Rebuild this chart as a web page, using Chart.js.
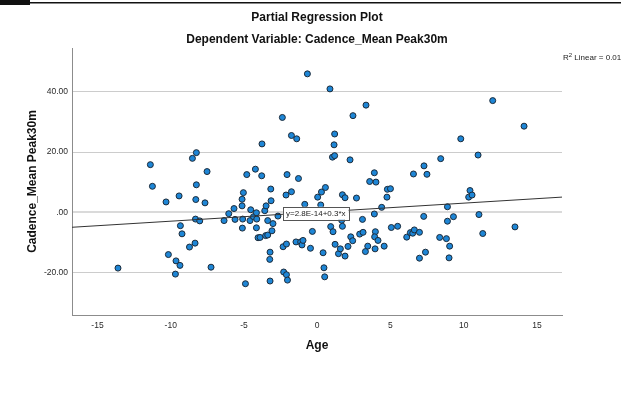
<!DOCTYPE html>
<html>
<head>
<meta charset="utf-8">
<title>Partial Regression Plot</title>
<script src="https://cdn.jsdelivr.net/npm/chart.js@4.4.1/dist/chart.umd.min.js"></script>
<style>
    html, body { margin: 0; padding: 0; background: #ffffff; }
    canvas { display: block; }
</style>
</head>
<body>
<canvas id="partialPlot" width="621" height="410"></canvas>
<script>
// Age residuals (x) and Cadence_Mean Peak30m residuals (y), one entry per case
const ageResid = [
    -13.60, -11.39, -11.25, -10.32, -10.16, -9.68, -9.64, -9.43, -9.37, -9.34,
    -9.23, -8.72, -8.52, -8.34, -8.31, -8.29, -8.25, -8.25, -8.02, -7.66,
    -7.52, -7.25, -6.36, -6.04, -5.68, -5.61, -5.13, -5.13, -5.09, -5.11,
    -5.04, -4.90, -4.81, -4.59, -4.54, -4.35, -4.22, -4.15, -4.13, -4.15,
    -4.04, -3.90, -3.79, -3.77, -3.58, -3.49, -3.52, -3.38, -3.38, -3.22,
    -3.24, -3.22, -3.17, -3.15, -3.09, -3.02, -2.68, -2.38, -2.33, -2.29,
    -2.10, -2.13, -2.10, -2.03, -2.06, -1.76, -1.76, -1.40, -1.45, -1.28,
    -1.13, -1.04, -0.97, -0.85, -0.67, -0.56, -0.46, -0.33, 0.03, 0.03,
    0.24, 0.29, 0.40, 0.46, 0.51, 0.56, 0.63, 0.87, 0.92, 1.04,
    1.08, 1.15, 1.19, 1.19, 1.22, 1.45, 1.58, 1.58, 1.67, 1.72,
    1.72, 1.90, 1.90, 2.10, 2.24, 2.29, 2.42, 2.44, 2.68, 2.90,
    3.09, 3.13, 3.33, 3.58, 3.90, 4.01, 3.90, 3.97, 3.92, 4.15,
    3.45, 3.29, 3.95, 4.40, 4.57, 4.76, 4.79, 5.00, 5.06, 5.49,
    6.11, 6.36, 6.52, 6.63, 6.98, 6.57, 7.29, 7.49, 7.27, 7.39,
    6.98, 8.36, 8.43, 8.82, 8.89, 8.89, 9.00, 9.04, 9.30, 9.80,
    10.34, 10.43, 10.57, 10.98, 11.04, 11.30, 11.98, 13.50, 14.12
];
const cadenceResid = [
    -18.6, 15.8, 8.6, 3.4, -14.1, -20.6, -16.2, 5.4, -17.7, -4.5,
    -7.2, -11.6, 17.9, -10.3, -2.3, 4.2, 19.8, 9.1, -2.9, 3.1,
    13.5, -18.3, -2.8, -0.5, 1.2, -2.4, 4.3, 2.1, -2.3, -5.3,
    6.5, -23.8, 12.5, -2.8, 0.8, -1.5, 14.3, -0.2, -2.3, -5.2,
    -8.5, -8.4, 12.1, 22.7, 0.5, 2.1, -7.8, -7.6, -2.8, -13.3,
    -15.7, -22.9, 7.7, 3.8, -6.2, -3.8, -1.3, 31.5, -11.5, -19.9,
    -10.6, 5.7, -20.8, -22.6, 12.5, 25.5, 6.8, 24.4, -9.9, 11.2,
    -9.9, -10.9, -9.4, 2.6, 46.0, 0.1, -12.0, -6.4, 5.0, 0.2,
    2.4, 6.7, -13.5, -18.5, -21.5, 8.2, 0.4, 41.0, -4.8, 18.3,
    -6.5, 22.4, 18.8, 26.0, -10.7, -13.8, 0.1, -12.2, -2.7, -4.7,
    5.8, 4.8, -14.6, -11.4, 17.4, -8.2, -9.5, 32.1, 4.7, -7.3,
    -2.4, -6.7, 35.6, 10.2, 13.1, 10.0, -0.6, -6.5, -8.2, -9.4,
    -11.3, -13.1, -12.2, 1.6, -11.3, 5.0, 7.6, 7.8, -5.1, -4.7,
    -8.3, -6.8, -7.0, -5.9, -6.7, 12.7, 15.4, 12.6, -1.4, -13.3,
    -15.3, -8.4, 17.8, -8.8, 1.8, -3.0, -15.2, -11.3, -1.5, 24.4,
    5.0, 7.2, 5.7, 19.0, -0.8, -7.1, 37.1, -4.9, 28.6
];

// Fitted line and its summary
const fitIntercept = 2.8e-14;
const fitSlope = 0.3;
const fitLabel = 'y=2.8E-14+0.3*x';
const rSquared = '0.017';

// Axis ranges and tick marks
const xRange = [-16.74, 16.71];
const yRange = [-34.2, 54.6];
const xTicks = [-15, -10, -5, 0, 5, 10, 15];
const yTicks = [-20, 0, 20, 40];

const FONT = '"Liberation Sans", Arial, sans-serif';

const points = ageResid.map((x, i) => ({ x: x, y: cadenceResid[i] }));
const fitLine = xRange.map(x => ({ x: x, y: fitIntercept + fitSlope * x }));

// Page background, the output frame rule and the R² note in the top right corner
const frameAndNotes = {
    id: 'frameAndNotes',
    beforeDraw(chart) {
        const ctx = chart.ctx;
        ctx.save();
        ctx.fillStyle = '#ffffff';
        ctx.fillRect(0, 0, chart.width, chart.height);
        ctx.fillStyle = '#111111';
        ctx.fillRect(0, 0, 30, 5);
        ctx.fillRect(30, 2, chart.width - 30, 1.5);
        ctx.restore();
    },
    afterDraw(chart) {
        const ctx = chart.ctx;
        ctx.save();
        ctx.fillStyle = '#222222';
        ctx.textBaseline = 'alphabetic';
        let x = 563;
        const y = 60;
        ctx.font = '8px ' + FONT;
        ctx.fillText('R', x, y);
        x += ctx.measureText('R').width;
        ctx.font = '6px ' + FONT;
        ctx.fillText('2', x, y - 3.5);
        x += ctx.measureText('2').width;
        ctx.font = '8px ' + FONT;
        ctx.fillText(' Linear = ' + rSquared, x, y);
        ctx.restore();
    }
};

// Equation box sitting on the fit line near x = 0
const fitLabelBox = {
    id: 'fitLabelBox',
    afterDatasetsDraw(chart) {
        const { ctx, scales } = chart;
        const cx = scales.x.getPixelForValue(-0.1);
        const cy = scales.y.getPixelForValue(fitIntercept + fitSlope * -0.1) + 1;
        ctx.save();
        ctx.font = '8px ' + FONT;
        const w = ctx.measureText(fitLabel).width + 6;
        const h = 13;
        ctx.fillStyle = '#ffffff';
        ctx.fillRect(cx - w / 2, cy - h / 2, w, h);
        ctx.strokeStyle = '#555555';
        ctx.lineWidth = 1;
        ctx.strokeRect(Math.round(cx - w / 2) + 0.5, Math.round(cy - h / 2) + 0.5, Math.round(w), h);
        ctx.fillStyle = '#222222';
        ctx.textAlign = 'center';
        ctx.textBaseline = 'middle';
        ctx.fillText(fitLabel, cx, cy + 0.5);
        ctx.restore();
    }
};

const ctx = document.getElementById('partialPlot').getContext('2d');

new Chart(ctx, {
    type: 'scatter',
    data: {
        datasets: [
            {
                type: 'line',
                label: 'Fit',
                data: fitLine,
                borderColor: '#333333',
                borderWidth: 1,
                pointRadius: 0,
                fill: false,
                order: 0
            },
            {
                label: 'Cases',
                data: points,
                backgroundColor: '#1e86d6',
                borderColor: '#1c2b3a',
                borderWidth: 1,
                pointRadius: 3,
                order: 1
            }
        ]
    },
    options: {
        responsive: false,
        devicePixelRatio: 1,
        animation: false,
        layout: {
            padding: { left: 20, top: 0, right: 59, bottom: 53 }
        },
        plugins: {
            legend: { display: false },
            tooltip: { enabled: false },
            title: {
                display: true,
                text: 'Partial Regression Plot',
                fullSize: false,
                color: '#111111',
                font: { family: FONT, size: 12, weight: 'bold' },
                padding: { top: 10, bottom: 8 }
            },
            subtitle: {
                display: true,
                text: 'Dependent Variable: Cadence_Mean Peak30m',
                fullSize: false,
                color: '#111111',
                font: { family: FONT, size: 12, weight: 'bold' },
                padding: { top: 0, bottom: 1.2 }
            }
        },
        scales: {
            x: {
                type: 'linear',
                min: xRange[0],
                max: xRange[1],
                afterBuildTicks: scale => {
                    scale.ticks = xTicks.map(v => ({ value: v }));
                },
                afterFit: scale => { scale.height = 42; },
                grid: { display: false, drawTicks: false },
                border: { display: true, color: '#8c8c8c', width: 1 },
                ticks: {
                    color: '#2a2a2a',
                    font: { family: FONT, size: 8.5 },
                    padding: 6,
                    maxRotation: 0,
                    callback: value => String(value)
                },
                title: {
                    display: true,
                    text: 'Age',
                    color: '#111111',
                    font: { family: FONT, size: 12, weight: 'bold' },
                    padding: { top: 0, bottom: 4 }
                }
            },
            y: {
                type: 'linear',
                min: yRange[0],
                max: yRange[1],
                afterBuildTicks: scale => {
                    scale.ticks = yTicks.map(v => ({ value: v }));
                },
                afterFit: scale => { scale.width = 52; },
                grid: {
                    display: true,
                    drawTicks: false,
                    color: ctx => (ctx.tick && ctx.tick.value === 0 ? '#dadada' : '#cccccc'),
                    lineWidth: ctx => (ctx.tick && ctx.tick.value === 0 ? 2 : 1)
                },
                border: { display: true, color: '#8c8c8c', width: 1 },
                ticks: {
                    color: '#2a2a2a',
                    font: { family: FONT, size: 8.5 },
                    padding: 4,
                    callback: value => (value === 0 ? '.00' : value.toFixed(2))
                },
                title: {
                    display: true,
                    text: 'Cadence_Mean Peak30m',
                    color: '#111111',
                    font: { family: FONT, size: 12, weight: 'bold' },
                    padding: { top: 5, bottom: 0 }
                }
            }
        }
    },
    plugins: [frameAndNotes, fitLabelBox]
});
</script>
</body>
</html>
